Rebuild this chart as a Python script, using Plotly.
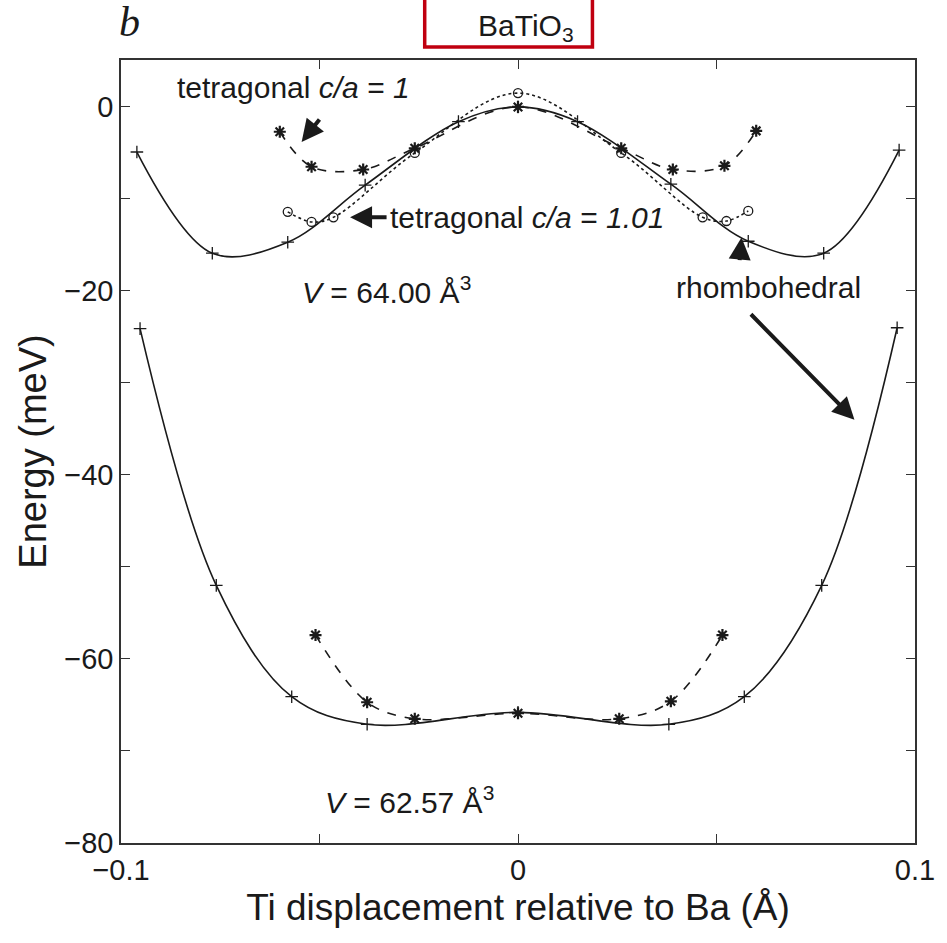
import plotly.graph_objects as go

# rhombohedral, V = 64.00 (solid, + markers)
rh64_x = [-0.096, -0.077, -0.058, -0.0385, -0.015, 0.0, 0.015, 0.0385, 0.058, 0.077, 0.096]
rh64_y = [-4.9, -15.9, -14.7, -8.5, -1.6, 0.0, -1.6, -8.4, -14.6, -15.9, -4.7]
# tetragonal c/a = 1, V = 64.00 (dashed, stars)
t1_x = [-0.060, -0.052, -0.039, -0.026, 0.0, 0.026, 0.039, 0.052, 0.060]
t1_y = [-2.7, -6.5, -6.8, -4.5, 0.0, -4.5, -6.8, -6.4, -2.6]
# tetragonal c/a = 1.01, V = 64.00 (dotted, circles)
t101_x = [-0.058, -0.052, -0.0465, -0.026, 0.0, 0.026, 0.0465, 0.0525, 0.058]
t101_y = [-11.4, -12.5, -12.0, -5.0, 1.5, -5.0, -12.0, -12.4, -11.3]
# rhombohedral, V = 62.57
rh62_x = [-0.0952, -0.076, -0.057, -0.038, 0.0, 0.038, 0.057, 0.0765, 0.0955]
rh62_y = [-24.1, -52.0, -64.1, -67.1, -65.8, -67.1, -64.1, -52.0, -24.0]
# tetragonal c/a = 1, V = 62.57
t62_x = [-0.051, -0.038, -0.026, 0.0, 0.0255, 0.0385, 0.0515]
t62_y = [-57.4, -64.7, -66.5, -65.9, -66.5, -64.6, -57.4]

x_ticks = [-0.1, -0.05, 0, 0.05, 0.1]
x_labels = ["\u22120.1", "", "0", "", "0.1"]
y_ticks = [0, -10, -20, -30, -40, -50, -60, -70, -80]
y_labels = ["0", "", "\u221220", "", "\u221240", "", "\u221260", "", "\u221280"]

INK = "#1a1a1a"
FONT = "Liberation Sans"

fig = go.Figure()

def add(x, y, dash, sym, size, mlw):
    fig.add_trace(go.Scatter(
        x=x, y=y, mode="lines+markers",
        line=dict(color=INK, width=1.6, dash=dash, shape="spline", smoothing=1.0),
        marker=dict(symbol=sym, size=size, color=INK, line=dict(color=INK, width=mlw)),
        showlegend=False, hoverinfo="skip"))

add(rh64_x, rh64_y, "solid", "cross-thin", 9, 1.3)
add(t1_x, t1_y, "dash", "asterisk-open", 10, 2.2)
add(t101_x, t101_y, "dot", "circle-open", 9, 1.3)
add(rh62_x, rh62_y, "solid", "cross-thin", 9, 1.3)
add(t62_x, t62_y, "dash", "asterisk-open", 10, 2.2)

ann_font = dict(family=FONT, size=30, color=INK)
annotations = [
    dict(x=-0.0865, y=2.07, text="tetragonal <i>c/a</i> = <i>1</i>", xanchor="left", yanchor="middle",
         showarrow=False, font=ann_font),
    dict(x=-0.03275, y=-12.0, text="tetragonal <i>c/a</i> = <i>1.01</i>", xanchor="left", yanchor="middle",
         showarrow=False, font=ann_font),
    dict(x=0.063, y=-19.6, text="rhombohedral", xanchor="center", yanchor="middle",
         showarrow=False, font=ann_font),
    dict(x=-0.03325, y=-19.9, text="<i>V</i> = 64.00 Å<sup>3</sup>", xanchor="center", yanchor="middle",
         showarrow=False, font=ann_font),
    dict(x=-0.02725, y=-75.3, text="<i>V</i> = 62.57 Å<sup>3</sup>", xanchor="center", yanchor="middle",
         showarrow=False, font=ann_font),
    # arrows
    dict(x=-0.0545, y=-3.8, ax=19, ay=-24, text="", showarrow=True, arrowhead=2, arrowsize=1.1,
         arrowwidth=4, arrowcolor=INK),
    dict(x=-0.0423, y=-12.0, ax=38, ay=0, text="", showarrow=True, arrowhead=2, arrowsize=1.1,
         arrowwidth=4, arrowcolor=INK),
    dict(x=0.0563, y=-14.2, ax=-2, ay=24, text="", showarrow=True, arrowhead=2, arrowsize=1.1,
         arrowwidth=4, arrowcolor=INK),
    dict(x=0.08475, y=-34.0, ax=-105, ay=-107, text="", showarrow=True, arrowhead=2, arrowsize=1.1,
         arrowwidth=4, arrowcolor=INK),
    # panel letter and material label
    dict(xref="paper", yref="paper", x=(130 - 121) / 800, y=(843 - 22) / 783, text="<i>b</i>",
         showarrow=False, xanchor="center", yanchor="middle",
         font=dict(family="Liberation Serif", size=42, color=INK)),
    dict(xref="paper", yref="paper", x=(529 - 121) / 800, y=(843 - 27) / 783, text="BaTiO<sub>3</sub>",
         showarrow=False, xanchor="center", yanchor="middle",
         font=dict(family=FONT, size=30, color=INK)),
]

shapes = [
    dict(type="path", xref="paper", yref="paper",
         path="M {l},{t} L {l},{b} L {r},{b} L {r},{t}".format(
             l=(427 - 121) / 800, r=(596 - 121) / 800,
             t=(843 + 5) / 783, b=(843 - 47) / 783),
         line=dict(color="#c00010", width=3.5)),
]

fig.update_layout(
    width=947, height=943,
    margin=dict(l=121, r=26, t=60, b=100),
    paper_bgcolor="white", plot_bgcolor="white",
    annotations=annotations, shapes=shapes,
    font=dict(family=FONT, color=INK),
)
fig.update_xaxes(
    range=[-0.1, 0.1], tickvals=x_ticks, ticktext=x_labels,
    ticks="inside", ticklen=9, tickwidth=1.3, tickcolor="#333",
    showline=True, linecolor="#333", linewidth=1.5, mirror="ticks",
    showgrid=False, zeroline=False,
    tickfont=dict(family=FONT, size=29, color=INK),
    title=dict(text="Ti displacement relative to Ba (Å)", font=dict(family=FONT, size=37, color=INK), standoff=10),
)
fig.update_yaxes(
    range=[-80, 5.1], tickvals=y_ticks, ticktext=y_labels,
    ticks="inside", ticklen=9, tickwidth=1.3, tickcolor="#333",
    showline=True, linecolor="#333", linewidth=1.5, mirror="ticks",
    showgrid=False, zeroline=False,
    tickfont=dict(family=FONT, size=29, color=INK),
    title=dict(text="Energy (meV)", font=dict(family=FONT, size=38, color=INK), standoff=6),
)

fig.write_html("out.html")
